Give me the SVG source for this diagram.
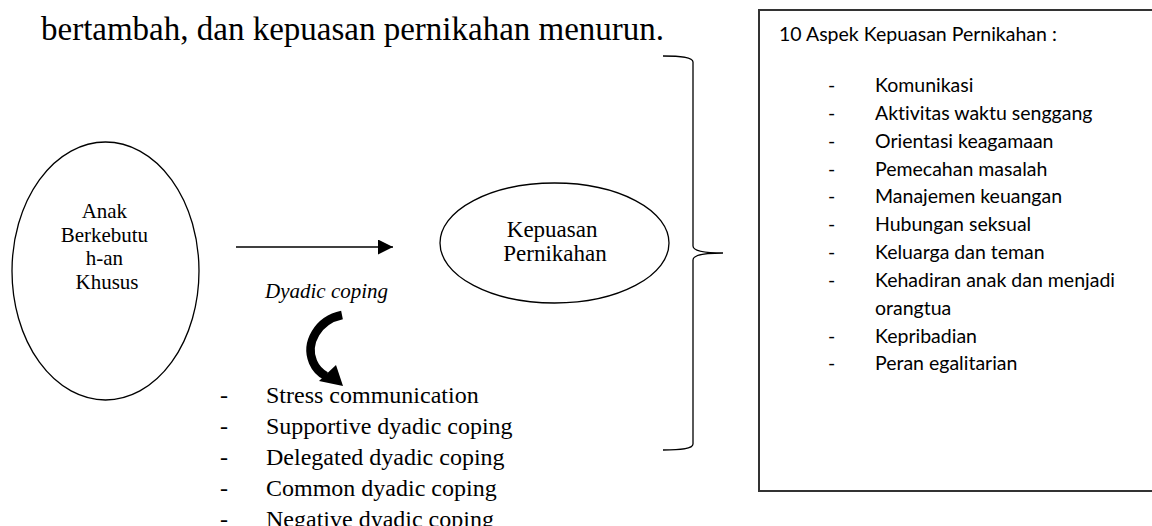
<svg xmlns="http://www.w3.org/2000/svg" width="1152" height="526" viewBox="0 0 1152 526">
<style>
.serif{font-family:"Liberation Serif","Times New Roman",serif;fill:#000}
.sans{font-family:Lato,"Open Sans",sans-serif;fill:#000;font-size:19.5px;font-variant-ligatures:none}
.ln{fill:none;stroke:#000;stroke-width:1.3}
</style>
<defs>
<marker id="ah" markerWidth="16" markerHeight="16" refX="15" refY="7.5" orient="auto" markerUnits="userSpaceOnUse">
<path d="M0,0 L15,7.5 L0,15 Z" fill="#000"/>
</marker>
</defs>
<rect width="1152" height="526" fill="#fff"/>
<text class="serif" x="41" y="40" font-size="33">bertambah, dan kepuasan pernikahan menurun.</text>

<g id="node-anak">
<ellipse class="ln" cx="105.5" cy="271" rx="93.5" ry="129"/>
<text class="serif" font-size="21" text-anchor="middle">
<tspan x="107" y="218">Anak</tspan>
<tspan x="107" y="241.5">Berkebutu</tspan>
<tspan x="107" y="265">h-an</tspan>
<tspan x="107" y="288.5">Khusus</tspan>
</text>
</g>

<g id="node-kepuasan">
<ellipse class="ln" cx="554.5" cy="243" rx="114.5" ry="60"/>
<text class="serif" font-size="23" text-anchor="middle">
<tspan x="555" y="237">Kepuasan</tspan>
<tspan x="555" y="261">Pernikahan</tspan>
</text>
</g>

<g id="connectors">
<line class="ln" x1="236" y1="247" x2="393" y2="247" marker-end="url(#ah)"/>
<path d="M342,315 C318,320 305,343 313,362 C316,369 320,373 326,376" fill="none" stroke="#000" stroke-width="8.5"/>
<path d="M343,386 L336,365 L319,381 Z" fill="#000"/>
<path class="ln" d="M663,56 C680,56 693,57 693,62 L693,246 C693,251 705,253 723,253 C705,253 693,255 693,260 L693,444 C693,449 680,450 663,450"/>
</g>

<g id="label-dyadic">
<text class="serif" x="265" y="298" font-size="21" font-style="italic">Dyadic coping</text>
</g>

<g id="list-dyadic" class="serif" font-size="24">
<text x="220" y="403">-</text><text x="266" y="403">Stress communication</text>
<text x="220" y="434">-</text><text x="266" y="434">Supportive dyadic coping</text>
<text x="220" y="465">-</text><text x="266" y="465">Delegated dyadic coping</text>
<text x="220" y="496">-</text><text x="266" y="496">Common dyadic coping</text>
<text x="220" y="527">-</text><text x="266" y="527">Negative dyadic coping</text>
</g>

<g id="node-aspek">
<rect x="759" y="10" width="420" height="481" fill="none" stroke="#333" stroke-width="2"/>
<text class="sans" x="779" y="41">10 Aspek Kepuasan Pernikahan :</text>
<g class="sans">
<text x="828" y="92">-</text><text x="875" y="92">Komunikasi</text>
<text x="828" y="120">-</text><text x="875" y="120">Aktivitas waktu senggang</text>
<text x="828" y="148">-</text><text x="875" y="148">Orientasi keagamaan</text>
<text x="828" y="176">-</text><text x="875" y="176">Pemecahan masalah</text>
<text x="828" y="203">-</text><text x="875" y="203">Manajemen keuangan</text>
<text x="828" y="231">-</text><text x="875" y="231">Hubungan seksual</text>
<text x="828" y="259">-</text><text x="875" y="259">Keluarga dan teman</text>
<text x="828" y="287">-</text><text x="875" y="287">Kehadiran anak dan menjadi</text>
<text x="875" y="315">orangtua</text>
<text x="828" y="343">-</text><text x="875" y="343">Kepribadian</text>
<text x="828" y="370">-</text><text x="875" y="370">Peran egalitarian</text>
</g>
</g>
</svg>
